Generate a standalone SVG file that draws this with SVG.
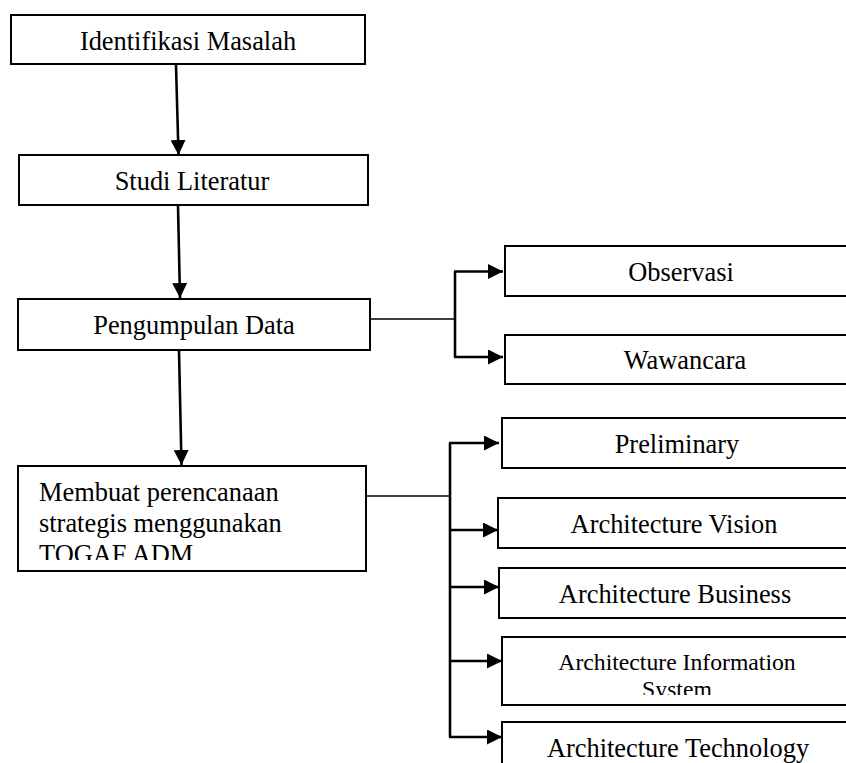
<svg xmlns="http://www.w3.org/2000/svg" width="846" height="763" viewBox="0 0 846 763">
  <style>
    .box { fill: #fff; stroke: #000; stroke-width: 2; }
    .lbl { font-family: 'Liberation Serif', Tinos, 'DejaVu Serif', 'Noto Serif', serif; font-size: 26.4px; fill: #000; }
    .mid { text-anchor: middle; }
    .sm { font-size: 23.7px; }
    .flow { fill: none; stroke: #000; stroke-width: 2.6; }
    .thin { fill: none; stroke: #000; stroke-width: 1.6; }
  </style>
  <defs>
    <marker id="arrow" viewBox="0 0 15 15" refX="15" refY="7.5" markerWidth="15" markerHeight="15" markerUnits="userSpaceOnUse" orient="auto">
      <path d="M0,0 L15,7.5 L0,15 z" fill="#000"/>
    </marker>
    <clipPath id="clipTogaf"><rect x="18" y="466" width="348" height="94"/></clipPath>
    <clipPath id="clipInfo"><rect x="502" y="637" width="350" height="58"/></clipPath>
  </defs>
  <rect width="846" height="763" fill="#fff"/>

  <!-- connectors -->
  <g id="connectors">
    <line class="flow" x1="176" y1="65" x2="178.5" y2="155" marker-end="url(#arrow)"/>
    <line class="flow" x1="178" y1="206" x2="180" y2="298" marker-end="url(#arrow)"/>
    <line class="flow" x1="179" y1="351" x2="181.5" y2="465" marker-end="url(#arrow)"/>

    <!-- data collection branch -->
    <line class="thin" x1="371" y1="319" x2="455" y2="319"/>
    <path class="flow" d="M455,271.5 V357"/>
    <line class="flow" x1="454" y1="271.5" x2="503" y2="271.5" marker-end="url(#arrow)"/>
    <line class="flow" x1="454" y1="357" x2="503" y2="357" marker-end="url(#arrow)"/>

    <!-- TOGAF ADM phase branch -->
    <line class="thin" x1="367" y1="496" x2="451" y2="496"/>
    <path class="flow" d="M450,443 V737"/>
    <line class="flow" x1="449" y1="443" x2="499" y2="443" marker-end="url(#arrow)"/>
    <line class="flow" x1="449" y1="530" x2="498" y2="530" marker-end="url(#arrow)"/>
    <line class="flow" x1="449" y1="587" x2="499" y2="587" marker-end="url(#arrow)"/>
    <line class="flow" x1="449" y1="661" x2="502" y2="661" marker-end="url(#arrow)"/>
    <line class="flow" x1="449" y1="737" x2="502" y2="737" marker-end="url(#arrow)"/>
  </g>

  <!-- main flow -->
  <g id="identifikasi">
    <rect class="box" x="11" y="15" width="354" height="49"/>
    <text class="lbl mid" x="188" y="50">Identifikasi Masalah</text>
  </g>
  <g id="studi">
    <rect class="box" x="19" y="155" width="349" height="50"/>
    <text class="lbl mid" x="192" y="190">Studi Literatur</text>
  </g>
  <g id="pengumpulan">
    <rect class="box" x="18" y="299" width="352" height="51"/>
    <text class="lbl mid" x="194" y="334">Pengumpulan Data</text>
  </g>
  <g id="perencanaan">
    <rect class="box" x="18" y="466" width="348" height="105"/>
    <g clip-path="url(#clipTogaf)">
      <text class="lbl" x="39" y="501">Membuat perencanaan</text>
      <text class="lbl" x="39" y="532">strategis menggunakan</text>
      <text class="lbl" x="39" y="563">TOGAF ADM</text>
    </g>
  </g>

  <!-- data collection methods -->
  <g id="observasi">
    <rect class="box" x="505" y="246" width="350" height="50"/>
    <text class="lbl mid" x="681" y="281">Observasi</text>
  </g>
  <g id="wawancara">
    <rect class="box" x="505" y="335" width="350" height="49"/>
    <text class="lbl mid" x="685" y="369">Wawancara</text>
  </g>

  <!-- ADM phases -->
  <g id="preliminary">
    <rect class="box" x="502" y="418" width="350" height="50"/>
    <text class="lbl mid" x="677" y="453">Preliminary</text>
  </g>
  <g id="vision">
    <rect class="box" x="498" y="498" width="354" height="50"/>
    <text class="lbl mid" x="674" y="533">Architecture Vision</text>
  </g>
  <g id="business">
    <rect class="box" x="499" y="568" width="353" height="50"/>
    <text class="lbl mid" x="675" y="603">Architecture Business</text>
  </g>
  <g id="information">
    <rect class="box" x="502" y="637" width="350" height="68"/>
    <g clip-path="url(#clipInfo)">
      <text class="lbl sm mid" x="677" y="670">Architecture Information</text>
      <text class="lbl sm mid" x="677" y="697">System</text>
    </g>
  </g>
  <g id="technology">
    <rect class="box" x="502" y="722" width="350" height="60"/>
    <text class="lbl mid" x="678" y="757">Architecture Technology</text>
  </g>
</svg>
